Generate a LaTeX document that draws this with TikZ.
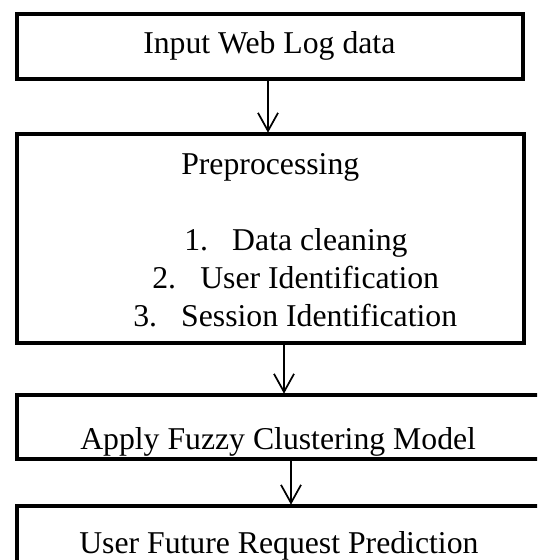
\documentclass[tikz,border=0pt]{standalone}
\usepackage{fontspec}
\setmainfont{Liberation Serif}
\usetikzlibrary{arrows.meta}

\begin{document}
\begin{tikzpicture}[
    x=0.75pt, y=-0.75pt,
    box/.style={draw=black, line width=3pt, rectangle, inner sep=0pt, outer sep=0pt},
    lbl/.style={anchor=base west, inner sep=0pt, font=\fontsize{23.8pt}{28pt}\selectfont},
    arr/.style={line width=1.3pt, -{Straight Barb[length=13.5pt, width=15pt, line width=1.3pt]}}
  ]
  \useasboundingbox (0,0) rectangle (537,560);
  \clip (0,0) rectangle (537,560);

  % process boxes (the last two run past the right and bottom edges)
  \node[box, minimum width=506*0.75pt, minimum height=65*0.75pt]  (b1) at (270,46.5) {};
  \node[box, minimum width=507*0.75pt, minimum height=209*0.75pt] (b2) at (270.5,238.5) {};
  \node[box, minimum width=583*0.75pt, minimum height=64*0.75pt]  (b3) at (308.5,427) {};
  \node[box, minimum width=583*0.75pt, minimum height=114*0.75pt] (b4) at (308.5,563) {};

  % box texts
  \node[lbl] (t1) at (143,54) {Input Web Log data};
  \node[lbl] (t2) at (181,174) {Preprocessing};
  \node[lbl] (i1) at (184,250) {\makebox[36pt][l]{1.}Data cleaning};
  \node[lbl] (i2) at (152,288) {\makebox[36pt][l]{2.}User Identification};
  \node[lbl] (i3) at (133,326) {\makebox[36pt][l]{3.}Session Identification};
  \node[lbl] (t3) at (80,449) {Apply Fuzzy Clustering Model};
  \node[lbl] (t4) at (79,553) {User Future Request Prediction};

  % connector columns
  \coordinate (c1) at (268,0);
  \coordinate (c2) at (284,0);
  \coordinate (c3) at (291,0);

  % connectors
  \draw[arr] (b1.south -| c1) -- ([yshift=1pt]b2.north -| c1);
  \draw[arr] (b2.south -| c2) -- ([yshift=1pt]b3.north -| c2);
  \draw[arr] (b3.south -| c3) -- ([yshift=1pt]b4.north -| c3);
\end{tikzpicture}
\end{document}
